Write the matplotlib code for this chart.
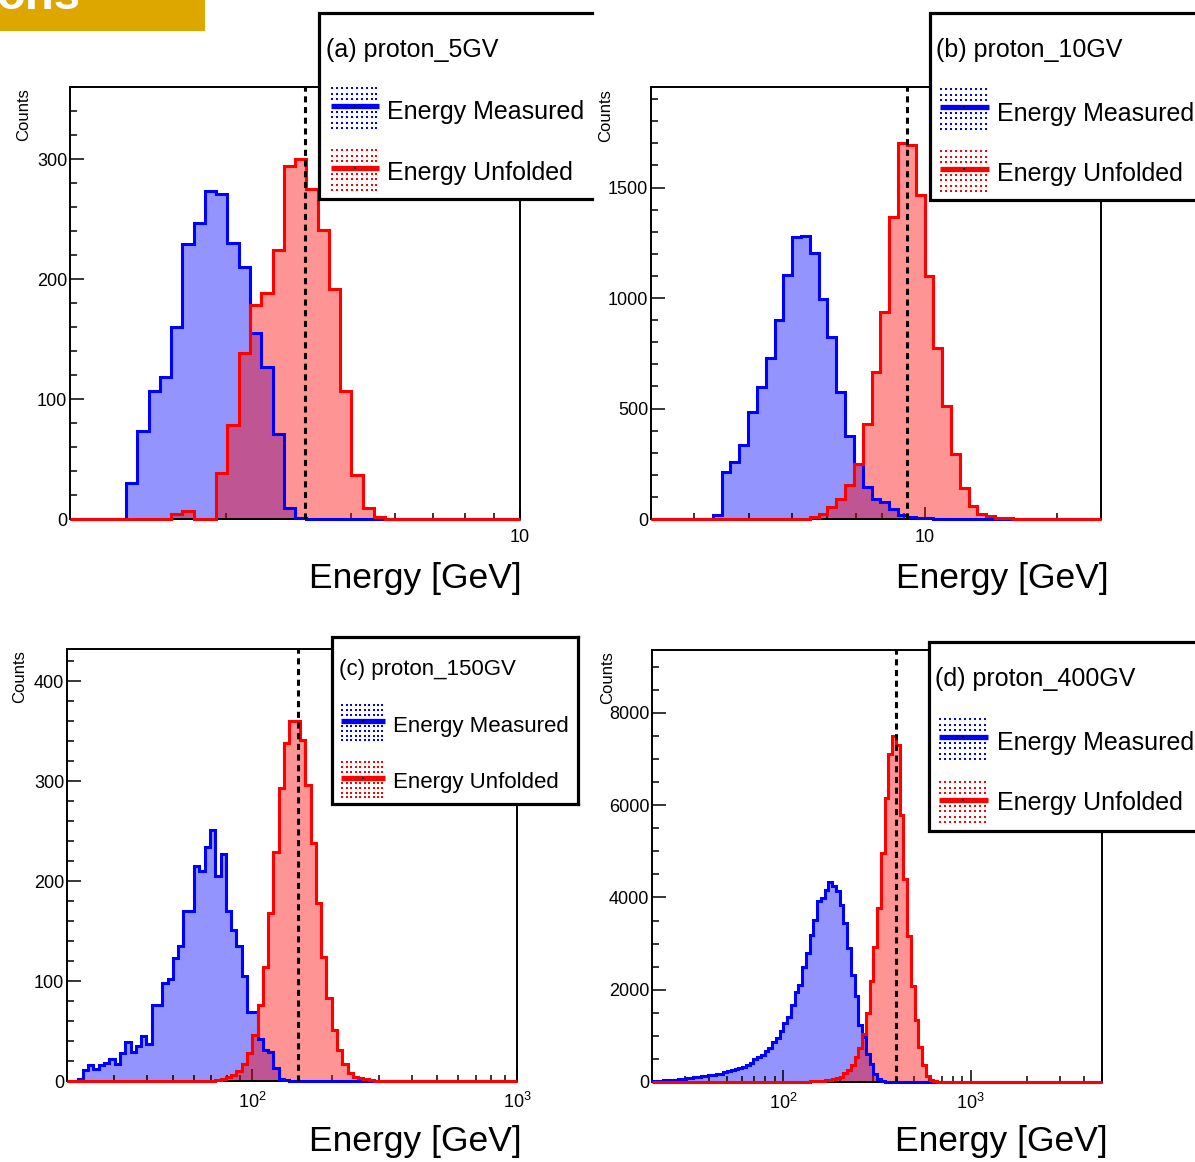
"""
Energy measured vs unfolded for four proton rigidities (2x2 grid, ROOT-style).
"""

import numpy as np
import matplotlib
matplotlib.use("Agg")  # headless: just write the PNG
import matplotlib.pyplot as plt
from matplotlib.patches import Rectangle
from matplotlib.ticker import (AutoMinorLocator, FixedLocator, FuncFormatter,
                               LogLocator, NullFormatter)

W, H = 1195, 1162

plt.rcParams["font.family"] = ["Liberation Sans", "DejaVu Sans"]
plt.rcParams["mathtext.fontset"] = "custom"
plt.rcParams["mathtext.rm"] = "Liberation Sans"

# ---------------------------------------------------------------- data
panel_titles = ["(a) proton_5GV", "(b) proton_10GV", "(c) proton_150GV", "(d) proton_400GV"]
true_energy = [4.15, 9.12, 149.1, 399.1]          # dashed line [GeV]
log_lo = [0.2, 0.38, 1.3, 1.3]                    # log10 of histogram / axis range
log_hi = [1.0, 1.40, 3.0, 3.7]
bin_width = 0.02                                  # log10 units, 50 bins per decade
y_top = [360, 1955, 432, 9365]
y_major = [100, 500, 100, 2000]
y_minor_div = [5, 5, 5, 4]
decade_labels = [["10"], ["10"], ["$\\mathregular{10^{2}}$", "$\\mathregular{10^{3}}$"],
                 ["$\\mathregular{10^{2}}$", "$\\mathregular{10^{3}}$"]]
decade_values = [[10], [10], [100, 1000], [100, 1000]]

# counts, given from the first non-empty bin on
measured_a_start = 5
measured_a = [30, 73, 107, 118, 160, 229, 247, 273, 271, 230, 210, 155, 127, 71, 9, 1]
unfolded_a_start = 9
unfolded_a = [4, 7, 0, 0, 38, 78, 138, 178, 188, 224, 294, 300, 275, 241, 192, 107,
              37, 9, 2]

measured_b_start = 7
measured_b = [16, 212, 258, 333, 484, 598, 729, 900, 1104, 1278, 1280, 1202, 994, 824,
              575, 374, 250, 145, 89, 77, 47, 16, 8, 4, 3, 2, 1]
unfolded_b_start = 17
unfolded_b = [2, 8, 24, 54, 92, 152, 250, 432, 666, 938, 1368, 1700, 1693, 1466, 1101,
              772, 510, 296, 142, 57, 24, 12, 6, 3, 2, 1]

measured_c_start = 2
measured_c = [2.5, 11.5, 15.8, 12.5, 16.5, 18, 22, 17.5, 28, 38.6, 29, 35, 45, 37.5,
              76, 76, 97.7, 101.7, 123, 135, 170, 170, 215, 210, 234, 251, 205, 227,
              170, 151, 135, 105, 68.6, 68.6, 42.5, 31, 29, 13, 2, 1]
unfolded_c_start = 28
unfolded_c = [1, 2, 4, 6, 9.8, 17.5, 28, 46.5, 76, 114, 168, 229.5, 293, 338, 360, 360,
              341.5, 296, 238, 178, 124, 83, 51, 31, 17.5, 8, 4, 3, 2, 1]

measured_d_start = 0
measured_d = [20, 25, 30, 35, 40, 45, 50, 60, 70, 80, 85, 110, 116, 120, 140, 150, 160,
              175, 180, 220, 230, 250, 282, 300, 330, 369, 419, 492, 540, 586, 673, 731,
              875, 948, 1107, 1274, 1417, 1671, 1960, 2105, 2502, 2793, 3190, 3515, 3913,
              3986, 4166, 4325, 4253, 4130, 3841, 3444, 2914, 2322, 1870, 1237, 983, 600,
              380, 170, 60, 25, 10, 5, 3, 2, 1]
unfolded_d_start = 35
unfolded_d = [2, 3, 4, 5, 6, 8, 10, 12, 15, 20, 25, 35, 45, 58, 90, 116, 188, 270, 369,
              550, 731, 1040, 1500, 2200, 2936, 3780, 4963, 6150, 7100, 7493, 7300, 5794,
              4400, 3160, 2090, 1350, 766, 360, 120, 50, 20, 10, 5, 3, 2, 1]

measured = [(measured_a_start, measured_a), (measured_b_start, measured_b),
            (measured_c_start, measured_c), (measured_d_start, measured_d)]
unfolded = [(unfolded_a_start, unfolded_a), (unfolded_b_start, unfolded_b),
            (unfolded_c_start, unfolded_c), (unfolded_d_start, unfolded_d)]

# ---------------------------------------------------------------- layout (pixels)
axes_px = [(70, 87, 520, 519), (651, 87, 1101, 519), (67, 649, 517, 1081), (652, 650, 1102, 1082)]
# legend box: left, top, right, bottom, closed on the right?
legend_box = [(319, 13, 592, 199, False), (930, 13, 1205, 200, False),
              (332, 637, 578, 804, True), (929, 642, 1205, 831, False)]
# title x, title baseline, symbol x0, x1, text x, entry centers, entry baselines, fontsize, symbol scale
legend_layout = [
    (326, 57, 331, 379, 387, (105.7, 167.7), (119.5, 180.0), 18, 1.0),
    (936, 57, 940, 989, 997, (106.5, 168.5), (120.5, 180.6), 18, 1.0),
    (339, 675, 341, 385, 393, (720.5, 777.5), (732.3, 787.6), 16, 0.9),
    (935, 686, 939, 988, 997, (736.8, 799.7), (749.6, 810.0), 18, 1.0),
]
counts_pos = [(24, 88), (606, 89), (20, 650), (608, 651)]
xlabel_pos = [(522, 588), (1109, 588), (522, 1151), (1108, 1151)]

BLUE, RED = "#0000ff", "#ff0000"


def rect(l, t, r, b):
    return [l / W, 1 - b / H, (r - l) / W, (b - t) / H]


def full_counts(n, start, vals):
    out = np.zeros(n)
    out[start:start + len(vals)] = vals
    return out


fig = plt.figure(figsize=(W / 100, H / 100), dpi=100)

for i in range(4):
    ax = fig.add_axes(rect(*axes_px[i]))
    n = int(round((log_hi[i] - log_lo[i]) / bin_width))
    edges = np.logspace(log_lo[i], log_hi[i], n + 1)
    meas = full_counts(n, *measured[i])
    unf = full_counts(n, *unfolded[i])

    ax.stairs(meas, edges, fill=True, color=BLUE, alpha=0.42, lw=0, zorder=1)
    ax.stairs(unf, edges, fill=True, color=RED, alpha=0.42, lw=0, zorder=2)
    # red drawn last so it sits on the shared zero line, as in the ROOT canvas
    ax.stairs(meas, edges, color=BLUE, lw=2.2, zorder=3, clip_on=False)
    ax.stairs(unf, edges, color=RED, lw=2.2, zorder=4, clip_on=False)
    ax.axvline(true_energy[i], color="black", lw=2.2, ls=(0, (2.0, 1.5)), zorder=5)

    ax.set_xscale("log")
    ax.set_xlim(10 ** log_lo[i], 10 ** log_hi[i])
    ax.set_ylim(0, y_top[i])

    ax.xaxis.set_major_locator(FixedLocator(decade_values[i]))
    labels = decade_labels[i]
    ax.xaxis.set_major_formatter(FuncFormatter(lambda v, p, labels=labels, vals=decade_values[i]:
                                               labels[vals.index(round(v))] if round(v) in vals else ""))
    ax.xaxis.set_minor_locator(LogLocator(base=10, subs=np.arange(2, 10), numticks=50))
    ax.xaxis.set_minor_formatter(NullFormatter())
    ax.yaxis.set_major_locator(FixedLocator(np.arange(0, y_top[i], y_major[i])))
    ax.yaxis.set_minor_locator(AutoMinorLocator(y_minor_div[i]))

    ax.tick_params(axis="both", which="both", direction="in", top=False, right=False,
                   labelsize=13, width=1.1)
    ax.tick_params(axis="y", which="major", length=10, pad=2)
    ax.tick_params(axis="y", which="minor", length=5)
    ax.tick_params(axis="x", which="major", length=8.5, pad=7.5)
    ax.tick_params(axis="x", which="minor", length=4.3)
    for s in ax.spines.values():
        s.set_linewidth(1.4)

# overlay in pixel coordinates for legends and axis titles
ov = fig.add_axes([0, 0, 1, 1], zorder=10)
ov.set_xlim(0, W)
ov.set_ylim(H, 0)
ov.axis("off")

# slide header strip, its text cut by the top edge as in the source
ov.add_patch(Rectangle((0, 0), 205, 31, color="#dea700", lw=0))
ov.text(-4, 9, "ons", color="white", fontsize=34, fontweight="bold", va="baseline", ha="left")


def legend_symbol(x0, x1, yc, color, scale):
    xs = np.linspace(x0 + 1.5, x1 - 2.5, 10)
    offs = np.array([-17.5, -12, -6.5, 6, 11.5, 17, 22]) * scale
    X, Y = np.meshgrid(xs, yc + offs)
    ov.scatter(X.ravel(), Y.ravel(), s=4.5, marker="s", color=color, linewidths=0)
    ov.plot([x0, x1], [yc, yc], color=color, lw=3.8, solid_capstyle="butt")
    ov.scatter([(x0 + x1) / 2], [yc], s=3, marker="s", color="black", linewidths=0, zorder=5)


for i in range(4):
    l, t, r, b, closed = legend_box[i]
    ov.add_patch(Rectangle((l, t), r - l, b - t, facecolor="white", edgecolor="none"))
    ov.plot([r, l, l, r], [t, t, b, b], color="black", lw=2.3, solid_joinstyle="miter")
    if closed:
        ov.plot([r, r], [t, b], color="black", lw=2.3)

    tx, ty, sx0, sx1, ex, ecs, ebs, fs, sc = legend_layout[i]
    ov.text(tx, ty, panel_titles[i], fontsize=fs, va="baseline", ha="left")
    for yc, yb, col, name in zip(ecs, ebs, (BLUE, RED), ("Energy Measured", "Energy Unfolded")):
        legend_symbol(sx0, sx1, yc, col, sc)
        ov.text(ex, yb, name, fontsize=fs, va="baseline", ha="left")

    cx, cy = counts_pos[i]
    ov.text(cx, cy, "Counts", fontsize=12, rotation=90, ha="center", va="top")
    lx, ly = xlabel_pos[i]
    ov.text(lx, ly, "Energy [GeV]", fontsize=25.5, ha="right", va="baseline")

fig.savefig("out.png", dpi=100)
plt.close(fig)
